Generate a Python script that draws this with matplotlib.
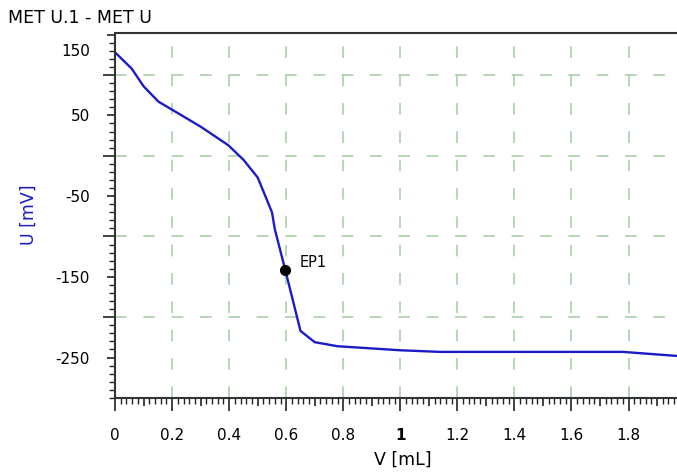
import numpy as np
import matplotlib.pyplot as plt
from matplotlib.ticker import MultipleLocator, FixedLocator
from matplotlib.transforms import ScaledTranslation

# titration curve
vol = [0.0, 0.058, 0.10, 0.152, 0.20, 0.30, 0.397, 0.45, 0.50, 0.55, 0.56,
       0.597, 0.65, 0.70, 0.78, 1.0, 1.14, 1.78, 1.97]
pot = [128, 108, 86, 67, 57, 36, 13, -5, -27, -70, -91,
       -142, -217, -231, -236, -241, -243, -243, -248]
ep_vol = 0.597
ep_pot = -142
y_labels = [150, 50, -50, -150, -250]
y_grid = [100, 0, -100, -200]
x_labels = [0, 0.2, 0.4, 0.6, 0.8, 1, 1.2, 1.4, 1.6, 1.8]
x_half = [0.1, 0.3, 0.5, 0.7, 0.9, 1.1, 1.3, 1.5, 1.7, 1.9]

blue = '#1c1cc4'
grid_col = '#a9cfa9'

fig = plt.figure(figsize=(6.77, 4.72), dpi=100)
ax = fig.add_axes([0.170, 0.157, 0.830, 0.773])

ax.plot(vol, pot, color=blue, lw=1.7)
ax.plot(ep_vol, ep_pot, 'o', color='black', ms=7)
ax.annotate('EP1', (ep_vol, ep_pot), xytext=(10, 6), textcoords='offset points',
            fontsize=10.5, va='center')

ax.set_xlim(0, 1.97)
ax.set_ylim(-300, 152)

# grid on the hundreds, labels on the odd fifties
for g in y_grid:
    ax.axhline(g, color=grid_col, lw=1.2, dashes=(7, 10), zorder=0)
for g in x_labels[1:]:
    ax.axvline(g, color=grid_col, lw=1.2, dashes=(7, 10), zorder=0)

y_major = sorted(y_labels + y_grid, reverse=True)
ax.yaxis.set_major_locator(FixedLocator(y_major))
ax.yaxis.set_minor_locator(MultipleLocator(10))
ax.set_yticklabels([str(v) if v in y_labels else '' for v in y_major])

x_major = sorted(x_labels + x_half)
ax.xaxis.set_major_locator(FixedLocator(x_major))
ax.xaxis.set_minor_locator(MultipleLocator(0.02))
ax.set_xticklabels(['%g' % v if v in x_labels else '' for v in x_major])

ax.tick_params(axis='both', which='major', direction='out', length=6, width=1.2,
               labelsize=11, color='#222222')
ax.tick_params(axis='both', which='minor', direction='out', length=4, width=1,
               color='#222222')
ax.tick_params(axis='x', which='major', pad=16)
ax.tick_params(axis='y', which='major', pad=12)

for v, t in zip(y_major, ax.yaxis.get_major_ticks()):
    t.tick1line.set_markersize(9 if v in y_grid else 6)
for v, t in zip(x_major, ax.xaxis.get_major_ticks()):
    t.tick1line.set_markersize(9 if v in x_labels else 6)

for lab in ax.get_xticklabels():
    if lab.get_text() == '1':
        lab.set_fontweight('bold')
# the top label sits lower than its tick in the original
top = ax.get_yticklabels()[0]
top.set_transform(top.get_transform() + ScaledTranslation(0, -0.15, fig.dpi_scale_trans))

for s in ['left', 'bottom', 'top']:
    ax.spines[s].set_color('#333333')
    ax.spines[s].set_linewidth(1.5)
ax.spines['right'].set_visible(False)

fig.text(0.012, 0.962, 'MET U.1 - MET U', fontsize=12.5, va='center')
fig.text(0.042, 0.545, 'U [mV]', fontsize=12.5, color=blue, rotation=90,
         ha='center', va='center')
fig.text(0.595, 0.026, 'V [mL]', fontsize=12.5, ha='center', va='center')

fig.savefig('out.png', dpi=100)
